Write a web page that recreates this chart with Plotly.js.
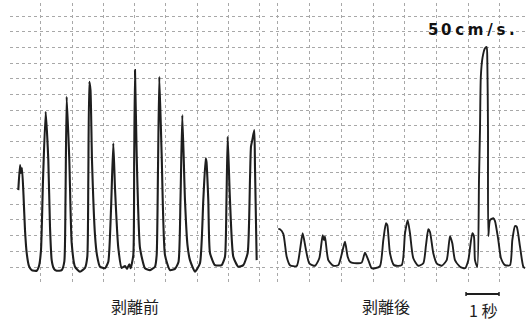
<!DOCTYPE html>
<html>
<head>
<meta charset="utf-8">
<script src="https://cdn.plot.ly/plotly-3.0.1.min.js"></script>
<style>html,body{margin:0;padding:0;background:#fff;}#chart{width:527px;height:324px;}</style>
</head>
<body>
<div id="chart"></div>
<script>
// Time (s) and velocity (cm/s)
const beforeLabel = "剥離前";
const afterLabel = "剥離後";
const scaleText = "5\u20060\u2005c\u2005m\u2005/\u2005s\u2005.";
const timeUnitLabel = "1 秒";

const beforeTime = [0.274,0.328,0.36,0.392,0.44,0.488,0.542,0.616,0.702,0.862,0.936,1.0,1.064,1.15,1.234,1.288,1.342,1.416,1.502,1.662,1.746,1.784,1.822,1.906,1.982,2.088,2.248,2.408,2.482,2.514,2.546,2.584,2.632,2.728,2.792,2.888,3.048,3.154,3.24,3.314,3.368,3.474,3.582,3.688,3.752,3.826,3.87,3.954,3.982,4.008,4.062,4.168,4.328,4.488,4.648,4.702,4.744,4.786,4.862,4.968,5.128,5.288,5.4,5.464,5.522,5.608,5.688,5.768,5.928,6.088,6.194,6.27,6.296,6.354,6.408,6.568,6.782,6.888,6.936,6.974,7.048,7.154,7.314,7.474,7.614,7.688,7.72,7.762,7.826,7.848,7.902];
const beforeVel = [24.6,32.6,30.1,31.7,23.0,11.8,4.5,0.3,-1.0,-1.2,0.3,5.4,27.8,49.7,34.2,12.8,2.2,-0.6,-1.2,-1.0,1.7,21.4,54.5,34.2,7.7,0.1,-1.5,-0.3,3.3,27.8,59.3,56.6,34.2,10.2,3.8,0.1,-0.4,1.7,18.2,39.6,25.3,6.1,-0.3,0.3,-0.6,0.9,-0.4,3.8,34.2,63.0,35.8,6.1,-0.4,-1.0,0.1,3.8,31.0,60.9,35.8,3.8,-1.0,-0.6,1.6,21.4,48.6,21.4,7.0,2.2,-1.5,1.2,21.4,34.8,33.6,21.4,4.5,0.6,0.6,3.3,21.4,41.7,21.4,3.3,0.1,0.6,4.5,27.8,38.5,40.6,43.8,32.1,2.2];

const afterTime = [0.266,0.32,0.426,0.534,0.64,0.854,0.96,1.046,1.152,1.258,1.44,1.578,1.686,1.728,1.76,1.866,2.026,2.186,2.326,2.4,2.486,2.56,2.774,2.934,3.04,3.146,3.254,3.36,3.52,3.626,3.712,3.754,3.84,3.968,4.214,4.32,4.406,4.48,4.586,4.746,4.906,4.992,5.066,5.12,5.226,5.334,5.494,5.654,5.76,5.834,5.92,6.08,6.24,6.346,6.474,6.528,6.56,6.634,6.688,6.72,6.746,6.8,6.88,6.934,6.954,6.976,6.986,7.04,7.146,7.2,7.306,7.392,7.52,7.68,7.754,7.84,7.894,8.0,8.106,8.16];
const afterVel = [12.2,12.1,10.6,3.3,0.6,0.3,5.4,10.8,5.4,1.2,0.4,2.8,10.2,8.6,9.7,2.2,0.4,0.6,5.4,8.1,3.3,1.7,1.2,1.4,4.6,2.2,-0.4,-0.4,0.3,8.6,14.0,13.4,4.4,0.6,0.6,10.8,15.0,10.8,2.8,0.4,1.2,7.0,12.1,11.2,4.4,1.2,0.4,2.2,9.9,7.6,2.2,0.1,-0.4,2.2,10.8,9.7,2.2,0.0,27.8,43.8,60.8,66.9,70.0,70.4,66.2,43.8,9.9,15.0,15.6,14.7,8.6,2.8,0.6,0.6,8.6,13.1,12.9,6.5,0.1,-0.4];

const traceColor = "#1e1e1e";
const gridColor = "#a8a8a8";

const data = [
  {x: beforeTime, y: beforeVel, xaxis: "x", yaxis: "y", type: "scatter", mode: "lines",
   line: {color: traceColor, width: 2.1, shape: "spline", smoothing: 0.5}, hoverinfo: "skip", showlegend: false},
  {x: afterTime, y: afterVel, xaxis: "x2", yaxis: "y2", type: "scatter", mode: "lines",
   line: {color: traceColor, width: 1.9, shape: "spline", smoothing: 0.6}, hoverinfo: "skip", showlegend: false}
];

const gridX = {showgrid: true, gridcolor: gridColor, griddash: "dot", gridwidth: 1,
  zeroline: false, showline: false, showticklabels: false, ticks: "", fixedrange: true};
const gridY = Object.assign({}, gridX, {tick0: 0, dtick: 5.02, range: [-4.8, 84.48], domain: [0.1296, 0.9907]});

const textFont = {family: "Noto Sans CJK JP", size: 16, color: "#1e1e1e"};

const layout = {
  width: 527, height: 324,
  margin: {l: 0, r: 0, t: 0, b: 0},
  paper_bgcolor: "#ffffff", plot_bgcolor: "#ffffff",
  xaxis: Object.assign({}, gridX, {domain: [0.0185, 0.5047], range: [0, 8.2], tick0: 1, dtick: 1, anchor: "y"}),
  yaxis: Object.assign({}, gridY, {anchor: "x"}),
  xaxis2: Object.assign({}, gridX, {domain: [0.5123, 1], range: [0, 8.224], tick0: 0.256, dtick: 1.0144, anchor: "y2"}),
  yaxis2: Object.assign({}, gridY, {anchor: "x2"}),
  shapes: [
    {type: "line", xref: "paper", yref: "paper", x0: 0.8843, x1: 0.9469, y0: 0.0926, y1: 0.0926, line: {color: "#1e1e1e", width: 2.2}},
    {type: "line", xref: "paper", yref: "paper", x0: 0.8843, x1: 0.8843, y0: 0.0864, y1: 0.0988, line: {color: "#1e1e1e", width: 1.5}},
    {type: "line", xref: "paper", yref: "paper", x0: 0.9469, x1: 0.9469, y0: 0.0864, y1: 0.0988, line: {color: "#1e1e1e", width: 1.5}}
  ],
  annotations: [
    {text: beforeLabel, xref: "paper", yref: "paper", x: 135/527, y: 1 - 306/324, xanchor: "center", yanchor: "middle",
     showarrow: false, font: textFont},
    {text: afterLabel, xref: "paper", yref: "paper", x: 386/527, y: 1 - 306/324, xanchor: "center", yanchor: "middle",
     showarrow: false, font: textFont},
    {text: timeUnitLabel, xref: "paper", yref: "paper", x: 483/527, y: 1 - 310/324, xanchor: "center", yanchor: "middle",
     showarrow: false, font: textFont},
    {text: "<b>" + scaleText + "</b>", xref: "paper", yref: "paper", x: 471/527, y: 1 - 30/324, xanchor: "center", yanchor: "middle",
     showarrow: false, font: {family: "DejaVu Sans", size: 15, color: "#111"}}
  ]
};

Plotly.newPlot("chart", data, layout, {staticPlot: true, displayModeBar: false});
</script>
</body>
</html>
